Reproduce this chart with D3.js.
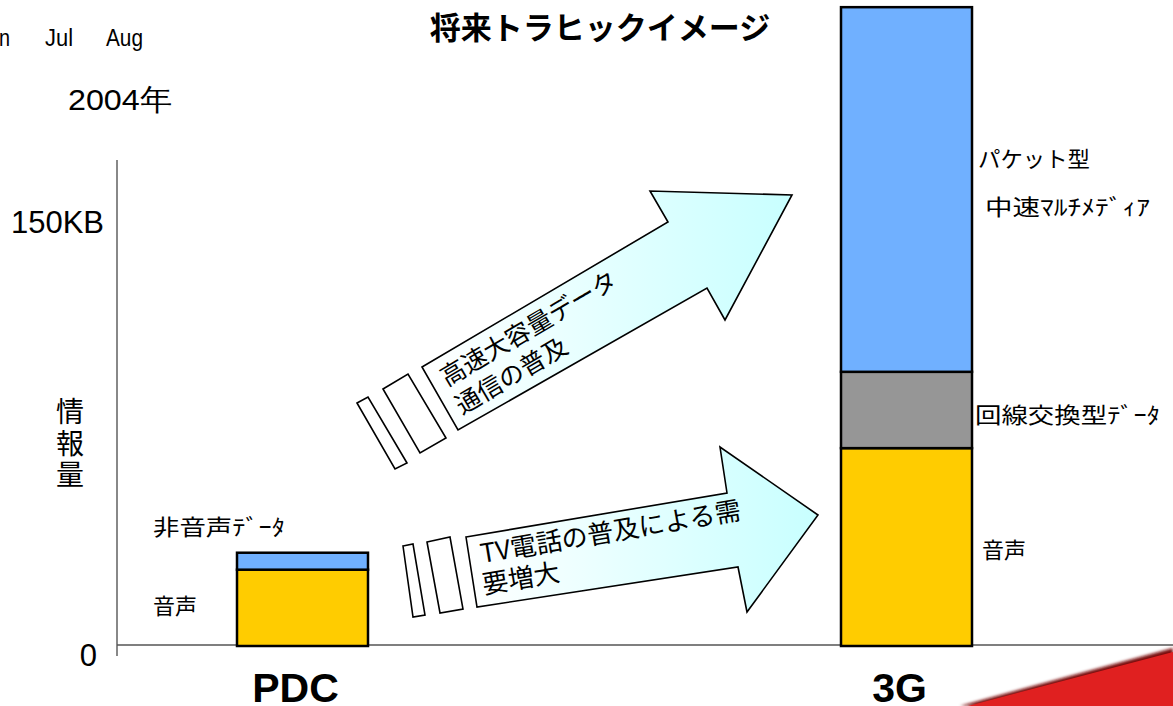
<!DOCTYPE html>
<html><head><meta charset="utf-8">
<script src="https://cdn.jsdelivr.net/npm/d3@7"></script>
<style>
html,body{margin:0;padding:0;background:#fff;overflow:hidden}
svg{display:block}
text{font-family:"Noto Sans CJK JP","Liberation Sans",sans-serif;fill:#000}
.lat{font-family:"Liberation Sans",Arial,sans-serif}
</style></head>
<body>
<script>
// ---- data ----
const categories = ["PDC", "3G"];
const seriesKeys = ["voice", "circuit", "packet"];
const voiceValues = [27, 70];
const circuitValues = [0, 27];
const packetValues = [6, 129];
const seriesColors = ["#ffcc00", "#969696", "#70b0ff"];
const yTickValues = [0, 150];
const yTickLabels = ["0", "150KB"];
const monthLabels = ["Jun", "Jul", "Aug"];
const yearLabel = "2004年";
const titleText = "将来トラヒックイメージ";
const yAxisTitle = ["情", "報", "量"];
const pdcLabels = ["非音声ﾃﾞｰﾀ", "音声"];
const g3Labels = ["パケット型", "中速ﾏﾙﾁﾒﾃﾞｨｱ", "回線交換型ﾃﾞｰﾀ", "音声"];
const arrowUpperText = ["高速大容量データ", "通信の普及"];
const arrowLowerText = ["TV電話の普及による需", "要増大"];

const W = 1173, H = 706;
const svg = d3.select("body").append("svg").attr("width", W).attr("height", H);

const defs = svg.append("defs");
const ag = defs.append("linearGradient").attr("id", "arrowGrad")
  .attr("x1", "0%").attr("x2", "100%").attr("y1", "0%").attr("y2", "0%");
ag.append("stop").attr("offset", "0%").attr("stop-color", "#ffffff");
ag.append("stop").attr("offset", "100%").attr("stop-color", "#c8ffff");
const blur = defs.append("filter").attr("id", "blur").attr("x", "-10%").attr("y", "-50%").attr("width", "120%").attr("height", "200%");
blur.append("feGaussianBlur").attr("stdDeviation", 1.6);

// ---- scales ----
const y = d3.scaleLinear().domain([0, 150]).range([646, 222]);
const x = d3.scalePoint().domain(categories).range([302.5, 906.5]);
const barW = 131;

// ---- stacked data ----
const rows = categories.map((c, i) => ({cat: c, voice: voiceValues[i], circuit: circuitValues[i], packet: packetValues[i]}));
const stacked = d3.stack().keys(seriesKeys)(rows);

// ---- top-left month labels & year ----
svg.selectAll(".month").data(monthLabels).join("text")
  .attr("class", "lat").attr("x", (d, i) => [-22, 45, 106][i])
  .attr("y", 46).attr("font-size", 23)
  .attr("textLength", (d, i) => [32, 28, 37][i]).attr("lengthAdjust", "spacingAndGlyphs")
  .text(d => d);
svg.append("text").attr("class", "lat").attr("x", 68).attr("y", 110)
  .attr("font-size", 30).attr("textLength", 104).attr("lengthAdjust", "spacingAndGlyphs").text(yearLabel);

// ---- title ----
svg.append("text").attr("x", 600).attr("y", 39).attr("text-anchor", "middle")
  .attr("font-size", 31).attr("font-weight", 700).text(titleText);

// ---- axes ----
svg.append("line").attr("x1", 117).attr("x2", 117).attr("y1", 160).attr("y2", 656)
  .attr("stroke", "#888").attr("stroke-width", 2);
svg.append("line").attr("x1", 117).attr("x2", W).attr("y1", y(0) - 1).attr("y2", y(0) - 1)
  .attr("stroke", "#555").attr("stroke-width", 1.5);

svg.selectAll(".ytick").data(yTickValues).join("text")
  .attr("class", "lat")
  .attr("x", (d, i) => i === 0 ? 97 : 104)
  .attr("y", d => y(d) + (d === 0 ? 20 : 11))
  .attr("text-anchor", "end").attr("font-size", 31)
  .text((d, i) => yTickLabels[i]);

svg.selectAll(".ytitle").data(yAxisTitle).join("text")
  .attr("x", 70).attr("y", (d, i) => 422 + i * 31.5)
  .attr("text-anchor", "middle").attr("font-size", 28).text(d => d);

// ---- bars ----
const layer = svg.append("g").selectAll("g").data(stacked).join("g")
  .attr("fill", (d, i) => seriesColors[i]);
layer.selectAll("rect").data(d => d.filter(s => s[1] > s[0])).join("rect")
  .attr("x", d => x(d.data.cat) - barW / 2)
  .attr("width", barW)
  .attr("y", d => y(d[1]))
  .attr("height", d => y(d[0]) - y(d[1]))
  .attr("stroke", "#000").attr("stroke-width", 2.5);

// ---- category labels ----
svg.selectAll(".cat").data(categories).join("text")
  .attr("class", "lat").attr("x", d => x(d) - 7).attr("y", 702)
  .attr("text-anchor", "middle").attr("font-size", 41).attr("font-weight", 700)
  .text(d => d);

// ---- PDC labels ----
svg.append("text").attr("x", 153).attr("y", y(42) + 8).attr("font-size", 22)
  .attr("textLength", 132).attr("lengthAdjust", "spacingAndGlyphs").text(pdcLabels[0]);
svg.append("text").attr("x", 153).attr("y", y(14) + 8).attr("font-size", 22).text(pdcLabels[1]);

// ---- 3G labels ----
const gx = x("3G") + barW / 2;
const s3 = i => stacked[i][1];
svg.append("text").attr("x", gx + 6).attr("y", (y(s3(2)[0]) + y(s3(2)[1])) / 2 - 22).attr("font-size", 22)
  .attr("textLength", 112).attr("lengthAdjust", "spacingAndGlyphs").text(g3Labels[0]);
svg.append("text").attr("x", gx + 13).attr("y", (y(s3(2)[0]) + y(s3(2)[1])) / 2 + 26).attr("font-size", 22)
  .attr("textLength", 165).attr("lengthAdjust", "spacingAndGlyphs").text(g3Labels[1]);
svg.append("text").attr("x", gx + 3).attr("y", (y(s3(1)[0]) + y(s3(1)[1])) / 2 + 13).attr("font-size", 22)
  .attr("textLength", 185).attr("lengthAdjust", "spacingAndGlyphs").text(g3Labels[2]);
svg.append("text").attr("x", gx + 10).attr("y", (y(s3(0)[0]) + y(s3(0)[1])) / 2 + 11).attr("font-size", 22).text(g3Labels[3]);

// ---- arrows ----
const line = d3.line();
function poly(pts, fill) {
  svg.append("path").attr("d", line(pts) + "Z").attr("fill", fill)
    .attr("stroke", "#000").attr("stroke-width", 1.6).attr("stroke-linejoin", "miter");
}
// upper
poly([[357,403],[368,397],[407,463],[395,469]], "#fff");
poly([[383,389],[408,374],[446,438],[420,453]], "#fff");
poly([[422,367],[668,222],[650,191],[792,195],[725,320],[707,288],[458,430]], "url(#arrowGrad)");
// lower
poly([[403,546],[413,544],[425,615],[413,617]], "#fff");
poly([[427,542],[450,537],[463,609],[440,613]], "#fff");
poly([[466,537],[727,493],[720,447],[818,515],[747,612],[738,567],[477,607]], "url(#arrowGrad)");

function rotText(lines, x0, y0, dx, dy, ang, fs) {
  lines.forEach((t, i) => {
    svg.append("text")
      .attr("transform", `translate(${x0 + dx * i},${y0 + dy * i}) rotate(${ang})`)
      .attr("font-size", fs).text(t);
  });
}
rotText(arrowUpperText, 447, 387, 15, 28, -30.5, 25);
rotText(arrowLowerText, 482, 563, 2, 31, -9.6, 26);

// ---- red decoration bottom-right ----
svg.append("path").attr("d", line([[960,706],[1173,648],[1173,706]]) + "Z")
  .attr("fill", "#7a0d0d").attr("filter", "url(#blur)");
svg.append("path").attr("d", line([[968,706],[1173,652],[1173,706]]) + "Z")
  .attr("fill", "#e02020");
</script>
</body></html>
